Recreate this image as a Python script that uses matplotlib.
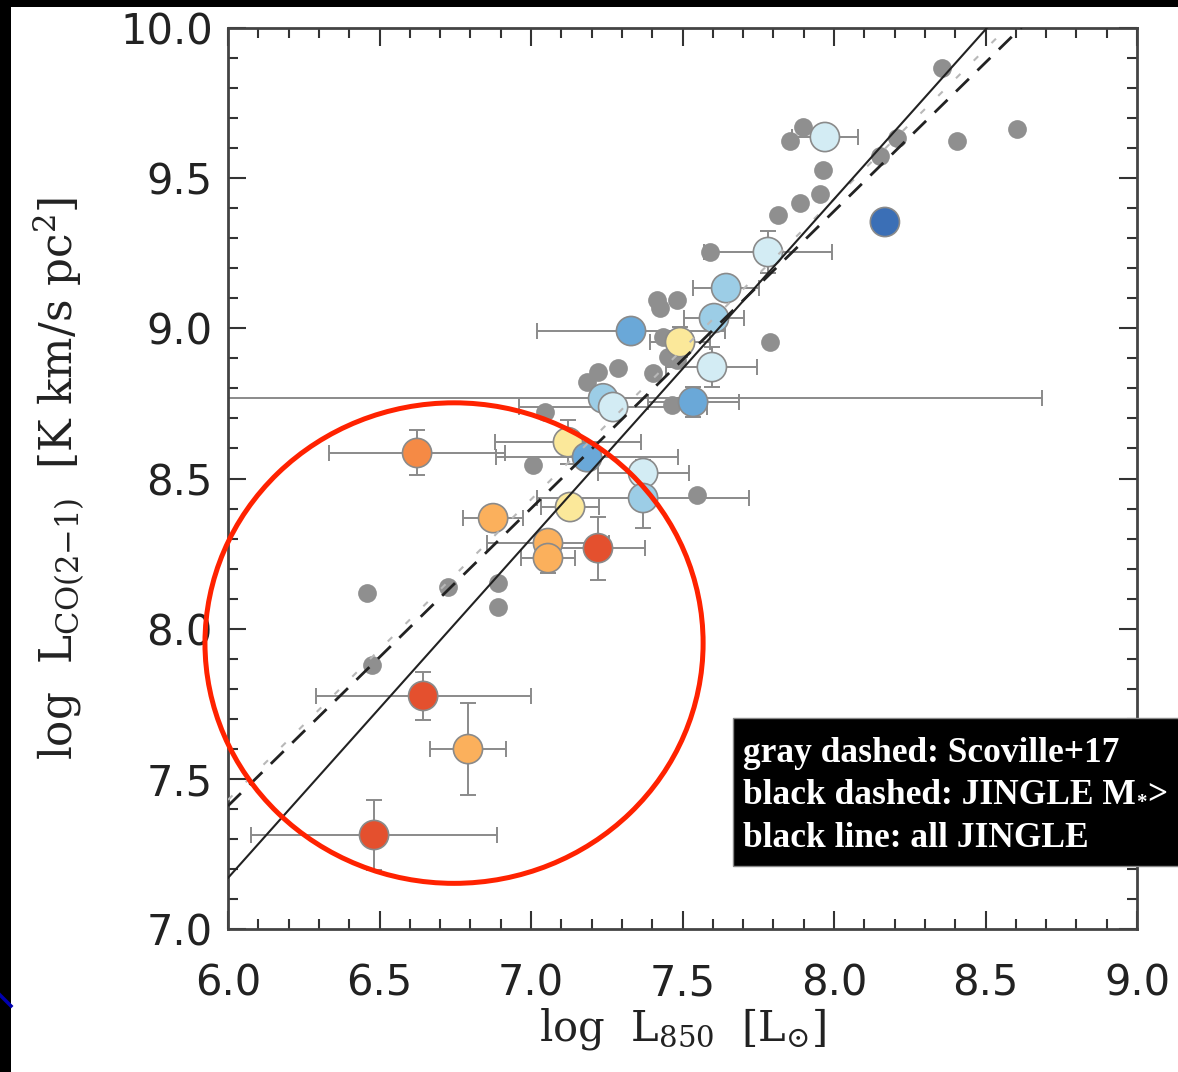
import numpy as np
import matplotlib
matplotlib.use('Agg')
import matplotlib.pyplot as plt
from matplotlib.patches import Ellipse, Rectangle
from matplotlib.lines import Line2D
from matplotlib.ticker import MultipleLocator, FormatStrFormatter

plt.rcParams['mathtext.fontset'] = 'dejavuserif'

# pontos cinza (Scoville+17)
cinza_x = [8.356, 7.898, 7.855, 8.208, 8.152, 8.406, 8.604, 7.964, 7.954, 7.888,
           7.815, 7.591, 7.416, 7.426, 7.482, 7.789, 7.436, 7.452, 7.482, 7.403,
           7.221, 7.287, 7.185, 7.465, 7.046, 7.007, 7.548, 6.459, 6.475, 6.726,
           6.891, 6.891]
cinza_y = [9.867, 9.670, 9.624, 9.634, 9.574, 9.624, 9.664, 9.527, 9.447, 9.417,
           9.377, 9.254, 9.094, 9.068, 9.094, 8.954, 8.971, 8.904, 8.894, 8.851,
           8.854, 8.868, 8.821, 8.745, 8.721, 8.545, 8.445, 8.119, 7.879, 8.139,
           8.152, 8.072]

# JINGLE
jingle_x = [7.970, 8.168, 7.782, 7.644, 7.604, 7.330, 7.492, 7.597, 7.535, 7.238,
            7.271, 7.122, 7.185, 6.624, 7.370, 7.370, 7.129, 6.875, 7.056, 7.056,
            7.221, 6.644, 6.792, 6.482]
jingle_y = [9.637, 9.354, 9.254, 9.134, 9.034, 8.991, 8.954, 8.871, 8.755, 8.767,
            8.738, 8.621, 8.571, 8.585, 8.518, 8.435, 8.405, 8.368, 8.285, 8.235,
            8.268, 7.776, 7.599, 7.313]
jingle_xerr = [0.11, 0.03, 0.21, 0.11, 0.10, 0.31, 0.10, 0.15, 0.15, 1.45,
               0.31, 0.24, 0.30, 0.29, 0.15, 0.35, 0.095, 0.10, 0.20, 0.09,
               0.155, 0.355, 0.124, 0.405]
jingle_yerr = [0.03, 0.03, 0.07, 0.04, 0.03, 0.03, 0.05, 0.066, 0.05, 0.03,
               0.03, 0.074, 0.03, 0.075, 0.045, 0.10, 0.03, 0.03, 0.03, 0.05,
               0.105, 0.08, 0.153, 0.116]
jingle_cor = ['lb', 'db', 'lb', 'sb', 'sb', 'mb', 'ye', 'lb', 'mb', 'sb',
              'lb', 'ye', 'mb', 'or', 'lb', 'sb', 'ye', 'lo', 'lo', 'lo',
              're', 're', 'lo', 're']

paleta = {'re': '#e4502e', 'or': '#f58a45', 'lo': '#fbb05c', 'ye': '#fbe89a',
          'lb': '#d3ecf4', 'sb': '#9ccde6', 'mb': '#6aa8d8', 'db': '#3b6fb6'}

# ajustes (inclinacao, intercepto em x=6)
ajuste_todos = (1.13, 7.17)
ajuste_massivo = (0.99, 7.41)
ajuste_scoville = (1.0, 7.43)

fig = plt.figure(figsize=(11.78, 10.72), dpi=100)
fig.patch.set_facecolor('white')
fig.patches.append(Rectangle((0, 1 - 7/1072), 1, 7/1072, transform=fig.transFigure,
                             facecolor='black', edgecolor='none', zorder=0))
fig.patches.append(Rectangle((0, 0), 11/1178, 1, transform=fig.transFigure,
                             facecolor='black', edgecolor='none', zorder=0))
fig.add_artist(Line2D([0, 11/1178], [1 - 995/1072, 1 - 1006/1072], color='#0000b0',
                      lw=2.5, transform=fig.transFigure))

ax = fig.add_axes([228/1178, 1 - 929/1072, 909/1178, 901/1072])
ax.set_xlim(6, 9)
ax.set_ylim(7, 10)

ax.errorbar(jingle_x, jingle_y, xerr=jingle_xerr, yerr=jingle_yerr, fmt='none',
            ecolor='#8a8a8a', elinewidth=1.4, capsize=6, capthick=1.4, zorder=2)
ax.scatter(cinza_x, cinza_y, s=13.5**2, c='#8f8f8f', linewidths=0, zorder=3)
ax.scatter(jingle_x, jingle_y, s=21**2, c=[paleta[k] for k in jingle_cor],
           edgecolors='#8a8a8a', linewidths=1.2, zorder=4)

xx = np.array([6.0, 9.0])
ax.plot(xx, ajuste_scoville[1] + ajuste_scoville[0]*(xx - 6), color='#b8b8b8',
        lw=1.5, linestyle=(0, (3, 9)), zorder=5)
ax.plot(xx, ajuste_massivo[1] + ajuste_massivo[0]*(xx - 6), color='#222222',
        lw=2, linestyle=(0, (6.5, 4.3)), zorder=5)
ax.plot(xx, ajuste_todos[1] + ajuste_todos[0]*(xx - 6), color='#222222',
        lw=1.5, zorder=5)

# circulo vermelho
ax.add_patch(Ellipse((6.746, 7.952), 1.644, 1.60, fill=False, edgecolor='#ff2200',
                     lw=3.6, clip_on=False, zorder=6))

ax.xaxis.set_major_locator(MultipleLocator(0.5))
ax.xaxis.set_minor_locator(MultipleLocator(0.1))
ax.yaxis.set_major_locator(MultipleLocator(0.5))
ax.yaxis.set_minor_locator(MultipleLocator(0.1))
ax.xaxis.set_major_formatter(FormatStrFormatter('%.1f'))
ax.yaxis.set_major_formatter(FormatStrFormatter('%.1f'))
ax.tick_params(which='both', direction='in', top=True, right=True, width=1.5,
               color='#333333', labelsize=30, labelcolor='#222222')
ax.tick_params(which='major', length=13)
ax.tick_params(which='minor', length=7)
ax.tick_params(axis='x', pad=24)
ax.tick_params(axis='y', pad=11)
for s in ax.spines.values():
    s.set_linewidth(2)
    s.set_color('#444444')

ax.set_xlabel(r'log  L$_{\mathregular{850}}$  [L$_{\odot}$]', fontsize=30,
              family='DejaVu Serif', color='#222222')
ax.set_ylabel(r'log  L$_{\mathregular{CO(2{-}1)}}$  [K km/s pc$^{\mathregular{2}}$]',
              fontsize=31.5, family='DejaVu Serif', color='#222222')
ax.xaxis.set_label_coords(0.5, -0.085)
ax.yaxis.set_label_coords(-0.155, 0.5)

# caixa de legenda
fig.patches.append(Rectangle((733/1178, 1 - 866/1072), 0.4, 148/1072,
                             transform=fig.transFigure, facecolor='black',
                             edgecolor='#888888', lw=1, zorder=10))
estilo = dict(color='white', fontweight='bold', family='Liberation Serif',
              va='baseline', ha='left', zorder=11)
x0 = 743/1178
fig.text(x0, 1 - 762/1072, 'gray dashed: Scoville+17', fontsize=25.5, **estilo)
t = fig.text(x0, 1 - 804/1072, 'black dashed: JINGLE M', fontsize=25.5, **estilo)
fig.text(x0, 1 - 847/1072, 'black line: all JINGLE', fontsize=25.5, **estilo)

fig.canvas.draw()
r = fig.canvas.get_renderer()
x1 = t.get_window_extent(r).x1 / fig.bbox.width
t2 = fig.text(x1 + 0.0005, 1 - 808/1072, '*', fontsize=15, **estilo)
x2 = t2.get_window_extent(r).x1 / fig.bbox.width
fig.text(x2 + 0.0005, 1 - 804/1072, '>', fontsize=25.5, **estilo)

fig.savefig('out.png', dpi=100)
